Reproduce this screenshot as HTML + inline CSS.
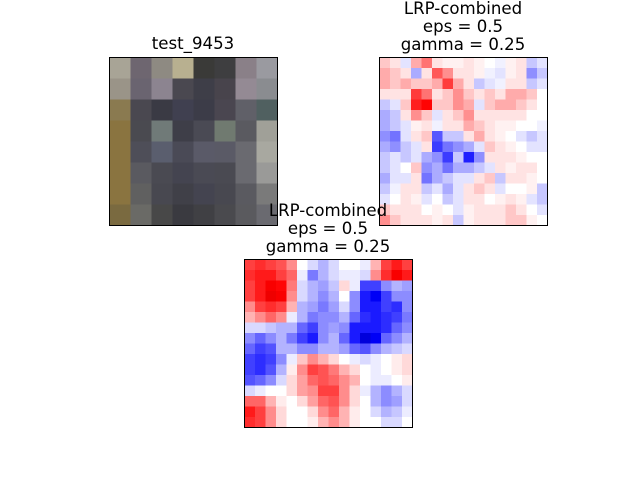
<!DOCTYPE html>
<html><head><meta charset="utf-8"><style>
html,body{margin:0;padding:0;background:#fff;}
svg{display:block;font-family:"DejaVu Sans","Liberation Sans",sans-serif;}
</style></head><body>
<svg id="fig" width="640" height="480" viewBox="0 0 640 480" xmlns="http://www.w3.org/2000/svg">
<rect x="0" y="0" width="640" height="480" fill="#fff"/>
<g id="p1"></g>
<g id="p2"></g>
<g id="p3"></g>
<text x="193" y="49" font-size="16.6" text-anchor="middle">test_9453</text>
<g font-size="16.6" text-anchor="middle">
<text x="463" y="14">LRP-combined</text><text x="463" y="32">eps = 0.5</text><text x="463" y="50">gamma = 0.25</text></g>
<g font-size="16.6" text-anchor="middle">
<text x="328" y="216">LRP-combined</text><text x="328" y="234">eps = 0.5</text><text x="328" y="252">gamma = 0.25</text></g>
</svg>
<script>
const catColors=[
["#a8a496","#6e6670","#8e8a82","#b8b090","#3a3a38","#3e3e40","#8a8088","#9a9aa0"],
["#9a9488","#6a6470","#8c8490","#4a4850","#3e3e48","#48444c","#948a94","#8a8c90"],
["#8a7a50","#4a4850","#3a3a44","#404050","#3c3c48","#4a4650","#606068","#506060"],
["#8a7440","#4a4a50","#707a78","#3e3e48","#4a4a54","#707a70","#5a5a60","#a0a098"],
["#8a7440","#4e4e58","#5a5e6e","#4a4a56","#5a5a68","#5a5a66","#6a6a70","#a8a8a0"],
["#8a7440","#5a5a60","#4a4a52","#444450","#4a4a54","#4a4a52","#6a6a70","#9a9a98"],
["#8a7440","#606060","#484850","#404048","#444450","#484850","#5a5a60","#7a7a7a"],
["#7a6a40","#6a6a66","#484848","#3a3a40","#404044","#4a4a4e","#5a5a5e","#6a6a70"]];
const heat1=[
[.2,.1,-.1,.3,.5,.1,.05,.05,.1,.05,0,-.05,.05,.1,-.2,-.1],
[.3,.2,.1,-.3,.1,.6,.4,.1,.1,.05,-.05,-.1,.05,.1,-.4,-.2],
[.3,.2,.3,.2,.2,.3,.7,.3,.1,-.2,-.1,-.05,.1,.1,-.2,-.1],
[.1,.1,.1,.7,.5,.1,.2,.4,.2,.1,.2,.1,.3,.3,.2,0],
[-.2,-.1,.2,.8,.9,.2,.2,.4,.3,-.1,.2,.3,.3,.2,.1,0],
[-.3,-.2,.1,.4,.2,-.1,.1,.2,.4,.1,.1,.1,.1,.1,0,0],
[-.3,-.2,-.1,.05,.1,-.05,.1,.1,.3,.2,.1,.05,.05,0,0,-.05],
[-.4,-.5,-.1,.1,.2,-.6,-.2,-.2,.1,.3,.1,.05,0,-.1,-.2,-.1],
[-.3,-.4,-.2,-.1,.1,-.7,-.5,-.4,-.3,-.1,.2,.1,.05,0,-.1,-.1],
[-.2,-.1,-.2,-.1,-.3,-.4,-.7,-.2,-.8,-.4,.1,.1,.1,.05,0,0],
[-.2,-.1,0,.2,-.4,-.3,-.5,-.3,-.3,-.2,-.1,.1,.05,.1,.1,0],
[-.3,-.1,-.1,.1,-.5,-.3,-.2,-.1,-.1,.1,.2,-.2,.1,.1,.05,0],
[-.2,-.05,.1,.1,-.2,-.1,-.3,-.1,.1,.2,.1,-.1,0,0,.05,-.2],
[-.1,0,.1,.05,-.1,0,-.2,-.1,.1,.1,0,.05,.1,.05,-.1,-.2],
[.2,.1,.1,.1,0,.05,0,-.1,.05,.1,.1,.1,.2,.1,0,-.1],
[.4,.2,.1,.1,.1,.05,.1,-.2,.05,.1,.1,.1,.2,.2,.05,0]];
const heat2=[
[.5,.55,.5,.45,.3,0,-.1,-.2,-.1,0,0,-.05,.2,.5,.6,.5],
[.55,.6,.6,.5,.4,-.05,-.35,-.2,-.1,-.05,-.05,-.1,.3,.55,.7,.6],
[.5,.6,.7,.65,.35,-.1,-.2,-.25,-.15,.1,-.05,-.5,-.5,-.3,-.2,-.25],
[.5,.6,.75,.7,.3,-.1,-.2,-.3,-.2,0,-.3,-.6,-.7,-.5,-.3,-.3],
[.3,.5,.55,.5,.2,-.2,-.25,-.35,-.25,-.1,-.3,-.6,-.6,-.5,-.55,-.3],
[.2,.3,.4,.3,-.05,-.2,-.35,-.3,-.3,-.2,-.4,-.55,-.6,-.55,-.5,-.35],
[-.1,-.1,-.15,-.2,-.2,-.4,-.5,-.3,-.25,-.3,-.6,-.6,-.6,-.55,-.4,-.3],
[-.3,-.4,-.3,-.2,-.35,-.5,-.6,-.3,-.2,-.4,-.6,-.8,-.7,-.4,-.3,-.2],
[-.4,-.5,-.45,-.2,-.2,-.3,-.3,-.2,-.2,-.25,-.4,-.45,-.3,-.2,-.15,-.1],
[-.5,-.55,-.5,-.3,-.05,.15,.3,.2,.1,0,-.05,-.1,-.05,0,.05,.1],
[-.5,-.55,-.45,-.2,.05,.3,.5,.45,.35,.2,.1,0,-.05,0,.05,.1],
[-.45,-.4,-.3,-.1,.1,.25,.4,.45,.4,.3,.2,0,-.05,-.05,0,.05],
[-.1,-.05,0,0,.1,.25,.3,.5,.5,.3,.1,-.05,-.2,-.3,-.2,-.1],
[.4,.4,.2,.05,0,.1,.25,.4,.45,.3,.1,0,-.2,-.3,-.25,-.1],
[.6,.5,.3,.1,0,0,.1,.3,.4,.2,.05,0,-.1,-.2,-.15,-.05],
[.55,.5,.3,.1,0,0,.05,.2,.3,.2,.05,0,0,-.1,-.1,0]];
const NS="http://www.w3.org/2000/svg";
function seismic(v){
  const t=(Math.max(-1,Math.min(1,v))+1)/2;
  const stops=[[0,0,0,.3],[.25,0,0,1],[.5,1,1,1],[.75,1,0,0],[1,.5,0,0]];
  for(let i=0;i<4;i++){const a=stops[i],b=stops[i+1];
    if(t<=b[0]){const f=(t-a[0])/(b[0]-a[0]);
      const c=[1,2,3].map(k=>Math.round(255*(a[k]+(b[k]-a[k])*f)));
      return `rgb(${c[0]},${c[1]},${c[2]})`;}}
  return "rgb(128,0,0)";
}
function panel(id,x0,y0,size,grid,colorFn,name){
  const g=document.getElementById(id);
  const n=grid.length, m=grid[0].length, cw=size/m, ch=size/n;
  grid.forEach((row,r)=>row.forEach((v,c)=>{
    const rc=document.createElementNS(NS,"rect");
    
    
    rc.setAttribute("x",x0+c*cw);rc.setAttribute("y",y0+r*ch);
    rc.setAttribute("width",cw+0.5);rc.setAttribute("height",ch+0.5);
    rc.setAttribute("fill",colorFn(v));g.appendChild(rc);
  }));
  const f=document.createElementNS(NS,"rect");
  
  
  f.setAttribute("x",x0);f.setAttribute("y",y0);f.setAttribute("width",size);f.setAttribute("height",size);
  f.setAttribute("fill","none");f.setAttribute("stroke","#000");f.setAttribute("stroke-width","1");
  g.appendChild(f);
}
panel("p1",109.5,57.5,168,catColors,c=>c,"image-pixel");
panel("p2",379.5,57.5,168,heat1,v=>seismic(v*0.55),"heatmap-cell");
panel("p3",244.5,259.5,168,heat2,v=>seismic(v*0.75),"heatmap-cell");
</script>
</body></html>
